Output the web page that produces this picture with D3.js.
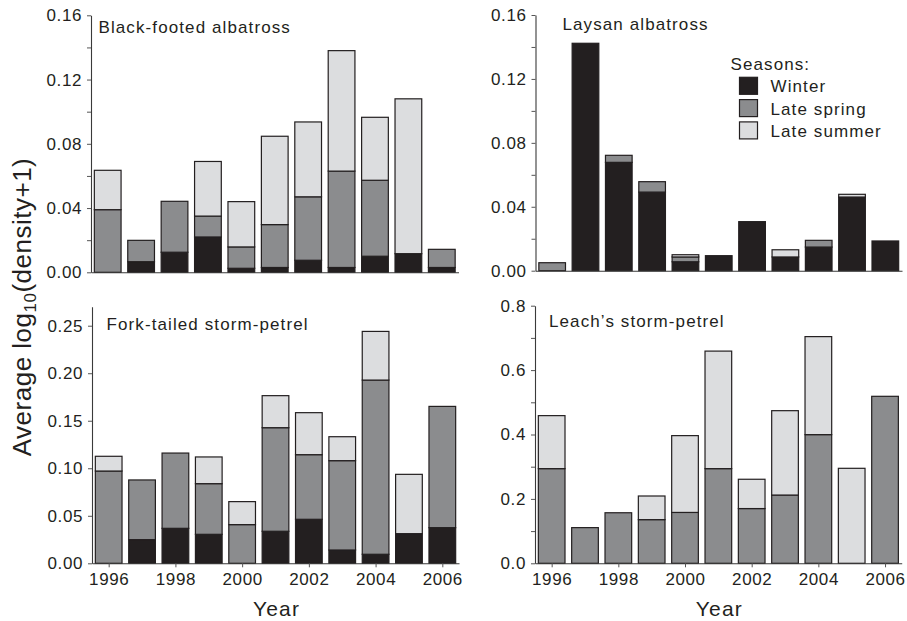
<!DOCTYPE html>
<html>
<head>
<meta charset="utf-8">
<script src="https://cdn.jsdelivr.net/npm/d3@7"></script>
<style>
  body { margin: 0; background: #fff; }
  text { font-family: "Liberation Sans", Arial, Helvetica, sans-serif; fill: #231f20; }
</style>
</head>
<body>
<script>
// seasonal densities, stacked bottom -> top: winter, late spring, late summer
const years = [1996, 1997, 1998, 1999, 2000, 2001, 2002, 2003, 2004, 2005, 2006]
const seasons = ['Winter', 'Late spring', 'Late summer']
const yearLabels = [1996, 1998, 2000, 2002, 2004, 2006]

const bfWinter = [0, 0.0066, 0.0125, 0.022, 0.0025, 0.003, 0.0075, 0.003, 0.010, 0.0116, 0.003]
const bfSpring = [0.039, 0.0133, 0.0317, 0.013, 0.0133, 0.0267, 0.0395, 0.060, 0.0473, 0, 0.0113]
const bfSummer = [0.0245, 0, 0, 0.034, 0.0282, 0.055, 0.0466, 0.075, 0.0392, 0.0964, 0]

const laWinter = [0, 0.1423, 0.0678, 0.0492, 0.0056, 0.0094, 0.0307, 0.0086, 0.0148, 0.0461, 0.0186]
const laSpring = [0.005, 0, 0.0044, 0.0065, 0.003, 0, 0, 0, 0.0042, 0, 0]
const laSummer = [0, 0, 0, 0, 0.0014, 0, 0, 0.0045, 0, 0.0017, 0]

const ftWinter = [0, 0.0249, 0.0368, 0.0305, 0, 0.0337, 0.0463, 0.014, 0.0095, 0.0312, 0.0375]
const ftSpring = [0.0971, 0.0628, 0.0792, 0.0533, 0.0407, 0.109, 0.068, 0.094, 0.1833, 0, 0.1276]
const ftSummer = [0.0155, 0, 0, 0.0281, 0.0242, 0.0337, 0.0442, 0.0252, 0.0512, 0.0624, 0]

const lsWinter = [0, 0, 0, 0, 0, 0, 0, 0, 0, 0, 0]
const lsSpring = [0.294, 0.1108, 0.157, 0.1356, 0.158, 0.294, 0.17, 0.212, 0.3996, 0, 0.5186]
const lsSummer = [0.1646, 0, 0, 0.0734, 0.2385, 0.365, 0.091, 0.262, 0.3044, 0.295, 0]

const color = d3.scaleOrdinal()
    .domain(seasons)
    .range(['#231f20', '#8b8c8e', '#dcdddf'])

// panel layout
const panels = [
    { title: 'Black-footed albatross', series: [bfWinter, bfSpring, bfSummer],
      x0: 91, x1: 458.5, yb: 272.3, yt: 15.3, max: 0.16, step: 0.04, minor: 0.02, fmt: '.2f',
      tx: 98.5, ty: 33, xlab: false },
    { title: 'Laysan albatross', series: [laWinter, laSpring, laSummer],
      x0: 535.5, x1: 902, yb: 270.7, yt: 15, max: 0.16, step: 0.04, minor: 0.02, fmt: '.2f',
      tx: 562.5, ty: 30, xlab: false },
    { title: 'Fork-tailed storm-petrel', series: [ftWinter, ftSpring, ftSummer],
      x0: 92, x1: 459, yb: 563.3, yt: 306.7, max: 0.27, top: 0.25, step: 0.05, minor: null, fmt: '.2f',
      tx: 106.5, ty: 330, xlab: true },
    { title: 'Leach\u2019s storm-petrel', series: [lsWinter, lsSpring, lsSummer],
      x0: 535, x1: 901.7, yb: 563.3, yt: 305.7, max: 0.8, step: 0.2, minor: 0.1, fmt: '.1f',
      tx: 549, ty: 326.7, xlab: true }
]

const svg = d3.select('body').append('svg')
    .attr('width', 907)
    .attr('height', 621)

panels.forEach(function(p) {
    const g = svg.append('g')

    const x = d3.scaleLinear().domain([1995.5, 2006.5]).range([p.x0, p.x1])
    const y = d3.scaleLinear().domain([0, p.max]).range([p.yb, p.yt])
    const bw = (x(1997) - x(1996)) * 0.8

    const rows = years.map(function(yr, i) {
        const r = { year: yr }
        seasons.forEach(function(s, k) { r[s] = p.series[k][i] })
        return r
    })
    const stacked = d3.stack().keys(seasons)(rows)

    g.selectAll('.layer')
        .data(stacked)
        .enter()
        .append('g')
            .attr('fill', function(d) { return color(d.key) })
        .selectAll('rect')
        .data(function(d) { return d.filter(function(v) { return v[1] - v[0] > 0 }) })
        .enter()
        .append('rect')
            .attr('x', function(d) { return x(d.data.year) - bw / 2 })
            .attr('width', bw)
            .attr('y', function(d) { return y(d[1]) })
            .attr('height', function(d) { return y(d[0]) - y(d[1]) })
            .attr('stroke', '#231f20')
            .attr('stroke-width', 1.2)

    // y axis, major then minor ticks
    const topTick = p.top || p.max
    const major = d3.range(0, topTick + p.step / 2, p.step)
    g.append('g')
        .attr('transform', 'translate(' + p.x0 + ',0)')
        .call(d3.axisLeft(y).tickValues(major).tickFormat(d3.format(p.fmt))
            .tickSize(4).tickSizeOuter(0).tickPadding(5))
    if (p.minor) {
        const minor = d3.range(p.minor, p.max, p.minor * 2)
        g.append('g')
            .attr('transform', 'translate(' + p.x0 + ',0)')
            .call(d3.axisLeft(y).tickValues(minor).tickFormat('').tickSize(4).tickSizeOuter(0))
            .select('.domain').remove()
    }

    g.append('g')
        .attr('transform', 'translate(0,' + p.yb + ')')
        .call(d3.axisBottom(x).tickValues(p.xlab ? yearLabels : [])
            .tickFormat(d3.format('d')).tickSize(4).tickSizeOuter(0).tickPadding(6))

    g.selectAll('.domain').attr('stroke', '#3a3a3a').attr('stroke-width', 1.1)
    g.selectAll('.tick line').attr('stroke', '#555')
    g.selectAll('.tick text')
        .attr('font-size', 17)
        .attr('letter-spacing', '0.6px')
        .attr('font-family', '"Liberation Sans", Arial, sans-serif')
        .attr('fill', '#231f20')

    g.append('text')
        .attr('x', p.tx)
        .attr('y', p.ty)
        .attr('font-size', 17)
        .attr('letter-spacing', '1.1px')
        .text(p.title)

    if (p.xlab) {
        g.append('text')
            .attr('x', (p.x0 + p.x1) / 2 + 1)
            .attr('y', 615.5)
            .attr('text-anchor', 'middle')
            .attr('font-size', 21)
            .attr('letter-spacing', '1.2px')
            .text('Year')
    }
})

// y axis title
const yt = svg.append('text')
    .attr('transform', 'translate(31,307) rotate(-90)')
    .attr('text-anchor', 'middle')
    .attr('font-size', 26)
    .attr('letter-spacing', '0.5px')
yt.append('tspan').text('Average log')
yt.append('tspan').attr('font-size', 17).attr('dy', 5).text('10')
yt.append('tspan').attr('dy', -5).text('(density+1)')

// legend
const legend = svg.append('g')
legend.append('text')
    .attr('x', 730.5)
    .attr('y', 70)
    .attr('font-size', 17)
    .attr('letter-spacing', '1.1px')
    .text('Seasons:')

const item = legend.selectAll('.item')
    .data(seasons)
    .enter()
    .append('g')
        .attr('transform', function(d, i) { return 'translate(739.5,' + (77.3 + i * 22.3) + ')' })
item.append('rect')
    .attr('width', 18)
    .attr('height', 17)
    .attr('fill', function(d) { return color(d) })
    .attr('stroke', '#231f20')
    .attr('stroke-width', 1.2)
item.append('text')
    .attr('x', 31)
    .attr('y', 15)
    .attr('font-size', 17)
    .attr('letter-spacing', '1.1px')
    .text(function(d) { return d })
</script>
</body>
</html>
